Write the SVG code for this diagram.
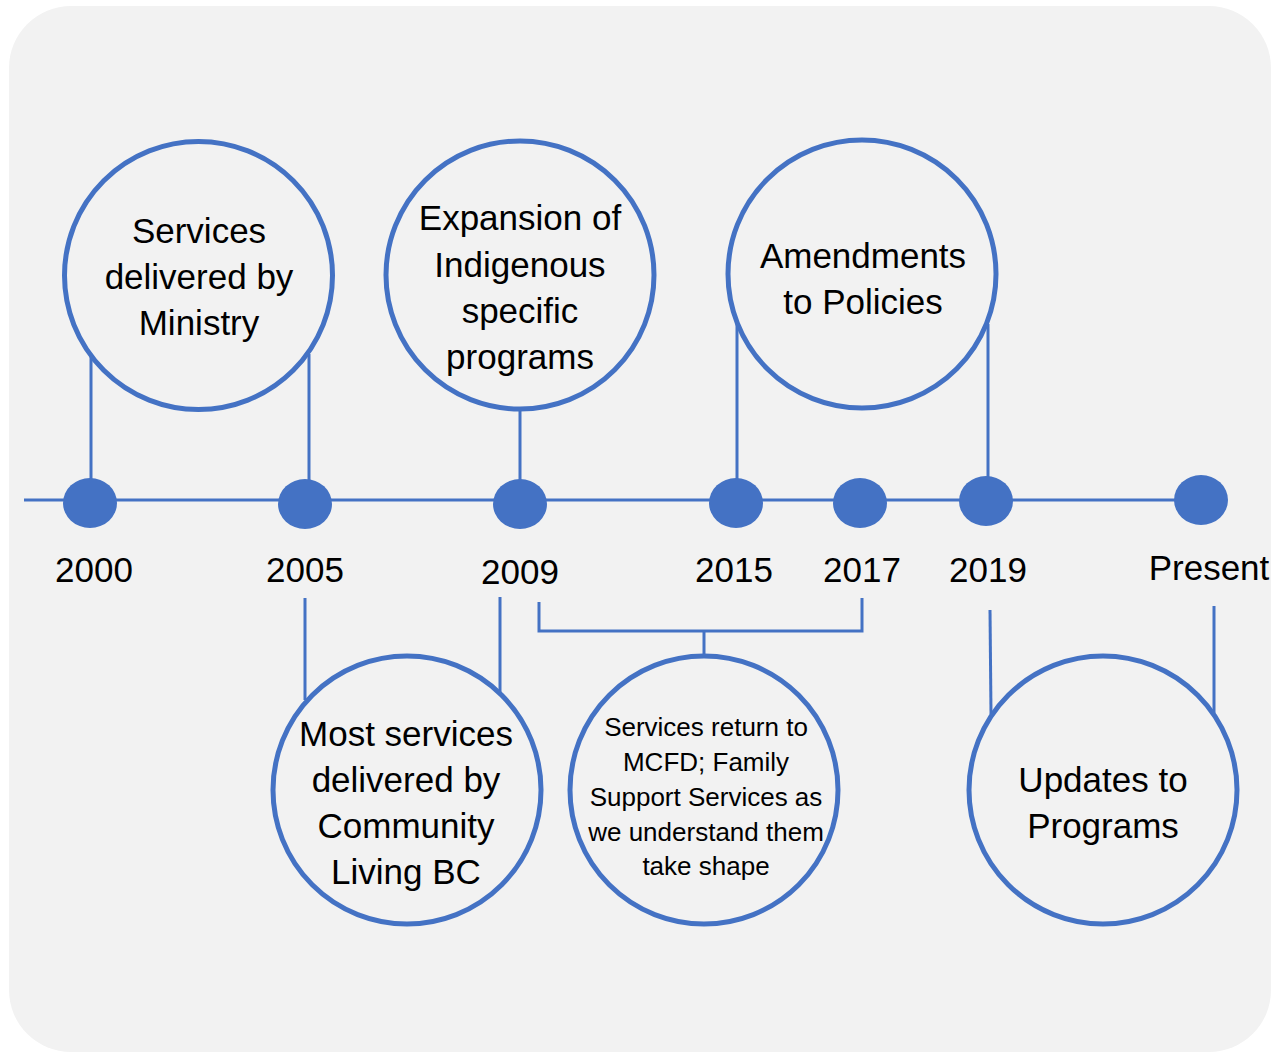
<svg xmlns="http://www.w3.org/2000/svg" width="1273" height="1053" viewBox="0 0 1273 1053">
<style>
.ring{fill:none;stroke:#4472c4;stroke-width:5}
.dot{fill:#4472c4}
.ln{stroke:#4472c4;stroke-width:3;fill:none}
text{font-family:"Liberation Sans",Arial,sans-serif;fill:#000;text-anchor:middle}
.big{font-size:35px}
.yr{font-size:35px}
.sm{font-size:26px}
</style>
<rect x="0" y="0" width="1273" height="1053" fill="#ffffff"/>
<rect x="9" y="6" width="1262" height="1046" rx="62" ry="62" fill="#f2f2f2"/>
<g id="connectors">
<line class="ln" x1="24" y1="500" x2="1200" y2="500"/>
<line class="ln" x1="91" y1="356" x2="91" y2="490"/>
<line class="ln" x1="309" y1="354" x2="309" y2="490"/>
<line class="ln" x1="520" y1="410" x2="520" y2="490"/>
<line class="ln" x1="737" y1="322" x2="737" y2="490"/>
<line class="ln" x1="988" y1="324" x2="988" y2="490"/>
<line class="ln" x1="305" y1="598" x2="305" y2="700"/>
<line class="ln" x1="500" y1="597" x2="500" y2="694"/>
<line class="ln" x1="990" y1="610" x2="991" y2="714"/>
<line class="ln" x1="1214" y1="606" x2="1214" y2="713"/>
<polyline class="ln" points="539,602 539,631 862,631 862,598"/>
<line class="ln" x1="704" y1="631" x2="704" y2="657"/>
</g>
<g id="dots">
<ellipse class="dot" cx="90" cy="503" rx="27" ry="25"/>
<ellipse class="dot" cx="305" cy="504" rx="27" ry="25"/>
<ellipse class="dot" cx="520" cy="504" rx="27" ry="25"/>
<ellipse class="dot" cx="736" cy="503" rx="27" ry="25"/>
<ellipse class="dot" cx="860" cy="503" rx="27" ry="25"/>
<ellipse class="dot" cx="986" cy="501" rx="27" ry="25"/>
<ellipse class="dot" cx="1201" cy="500" rx="27" ry="25"/>
</g>
<g id="years">
<text class="yr" x="94" y="582">2000</text>
<text class="yr" x="305" y="582">2005</text>
<text class="yr" x="520" y="584">2009</text>
<text class="yr" x="734" y="582">2015</text>
<text class="yr" x="862" y="582">2017</text>
<text class="yr" x="988" y="582">2019</text>
<text class="yr" x="1209" y="580">Present</text>
</g>
<g id="node-ministry">
<circle class="ring" cx="198.5" cy="275.5" r="134"/>
<text class="big" x="199" y="243">Services</text>
<text class="big" x="199" y="289">delivered by</text>
<text class="big" x="199" y="335">Ministry</text>
</g>
<g id="node-expansion">
<circle class="ring" cx="520" cy="275" r="134"/>
<text class="big" x="520" y="230">Expansion of</text>
<text class="big" x="520" y="277">Indigenous</text>
<text class="big" x="520" y="323">specific</text>
<text class="big" x="520" y="369">programs</text>
</g>
<g id="node-amendments">
<circle class="ring" cx="862" cy="274" r="134"/>
<text class="big" x="863" y="268">Amendments</text>
<text class="big" x="863" y="314">to Policies</text>
</g>
<g id="node-clbc">
<circle class="ring" cx="407" cy="790" r="134"/>
<text class="big" x="406" y="746">Most services</text>
<text class="big" x="406" y="792">delivered by</text>
<text class="big" x="406" y="838">Community</text>
<text class="big" x="406" y="884">Living BC</text>
</g>
<g id="node-mcfd">
<circle class="ring" cx="704" cy="790" r="134"/>
<text class="sm" x="706" y="736">Services return to</text>
<text class="sm" x="706" y="771">MCFD; Family</text>
<text class="sm" x="706" y="806">Support Services as</text>
<text class="sm" x="706" y="841">we understand them</text>
<text class="sm" x="706" y="875">take shape</text>
</g>
<g id="node-updates">
<circle class="ring" cx="1103" cy="790" r="134"/>
<text class="big" x="1103" y="792">Updates to</text>
<text class="big" x="1103" y="838">Programs</text>
</g>
</svg>
